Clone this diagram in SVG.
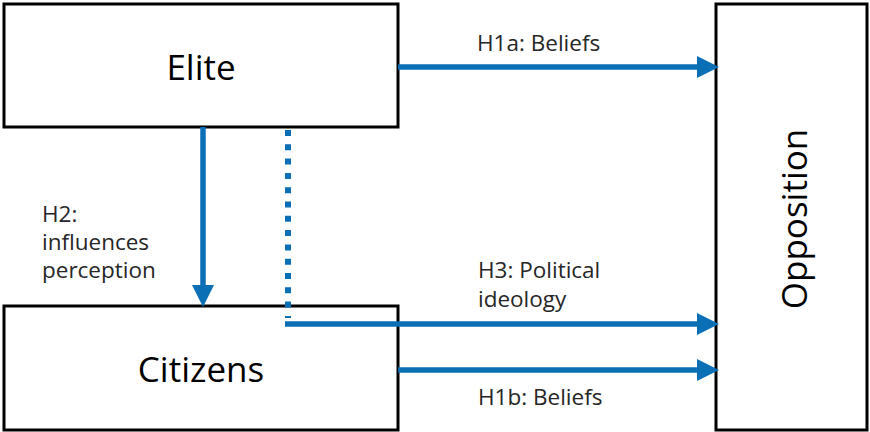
<svg xmlns="http://www.w3.org/2000/svg" width="870" height="432" viewBox="0 0 870 432">
  <style>
    .box { fill: #ffffff; stroke: #000000; stroke-width: 3; }
    .big { font-family: "Open Sans", "Noto Sans", sans-serif; font-size: 35px; fill: #000000; }
    .lbl { font-family: "Open Sans", "Noto Sans", sans-serif; font-size: 22.5px; fill: #262626; }
    .arr { stroke: #0a6fb4; stroke-width: 5.5; fill: none; }
    .dot { stroke: #0a6fb4; stroke-width: 6; fill: none; stroke-dasharray: 6 8.3; }
  </style>
  <defs>
    <marker id="head" markerUnits="userSpaceOnUse" markerWidth="23" markerHeight="22" refX="0" refY="11" orient="auto" viewBox="0 0 23 22">
      <path d="M0,0 L22,11 L0,22 Z" fill="#0a6fb4"/>
    </marker>
  </defs>
  <rect width="870" height="432" fill="#ffffff"/>

  <g id="elite">
    <rect class="box" x="4" y="4" width="394" height="123"/>
    <text class="big" x="201" y="80" text-anchor="middle">Elite</text>
  </g>
  <g id="citizens">
    <rect class="box" x="4" y="306" width="394" height="124"/>
    <text class="big" x="201" y="382" text-anchor="middle">Citizens</text>
  </g>
  <g id="opposition">
    <rect class="box" x="716" y="4" width="151" height="426"/>
    <text class="big" transform="translate(807,219) rotate(-90)" text-anchor="middle">Opposition</text>
  </g>

  <g id="connectors">
    <line class="arr" x1="398" y1="67" x2="697" y2="67" marker-end="url(#head)"/>
    <line class="arr" x1="203" y1="127" x2="203" y2="285" marker-end="url(#head)"/>
    <line class="dot" x1="288" y1="130" x2="288" y2="318"/>
    <polyline class="arr" points="285,324 697,324" marker-end="url(#head)"/>
    <line class="arr" x1="398" y1="370" x2="697" y2="370" marker-end="url(#head)"/>
  </g>

  <g id="labels">
    <text class="lbl" x="477" y="51">H1a: Beliefs</text>
    <text class="lbl" x="42" y="222">H2:</text>
    <text class="lbl" x="42" y="250">influences</text>
    <text class="lbl" x="42" y="278">perception</text>
    <text class="lbl" x="478" y="278">H3: Political</text>
    <text class="lbl" x="478" y="307">ideology</text>
    <text class="lbl" x="478" y="405">H1b: Beliefs</text>
  </g>
</svg>
